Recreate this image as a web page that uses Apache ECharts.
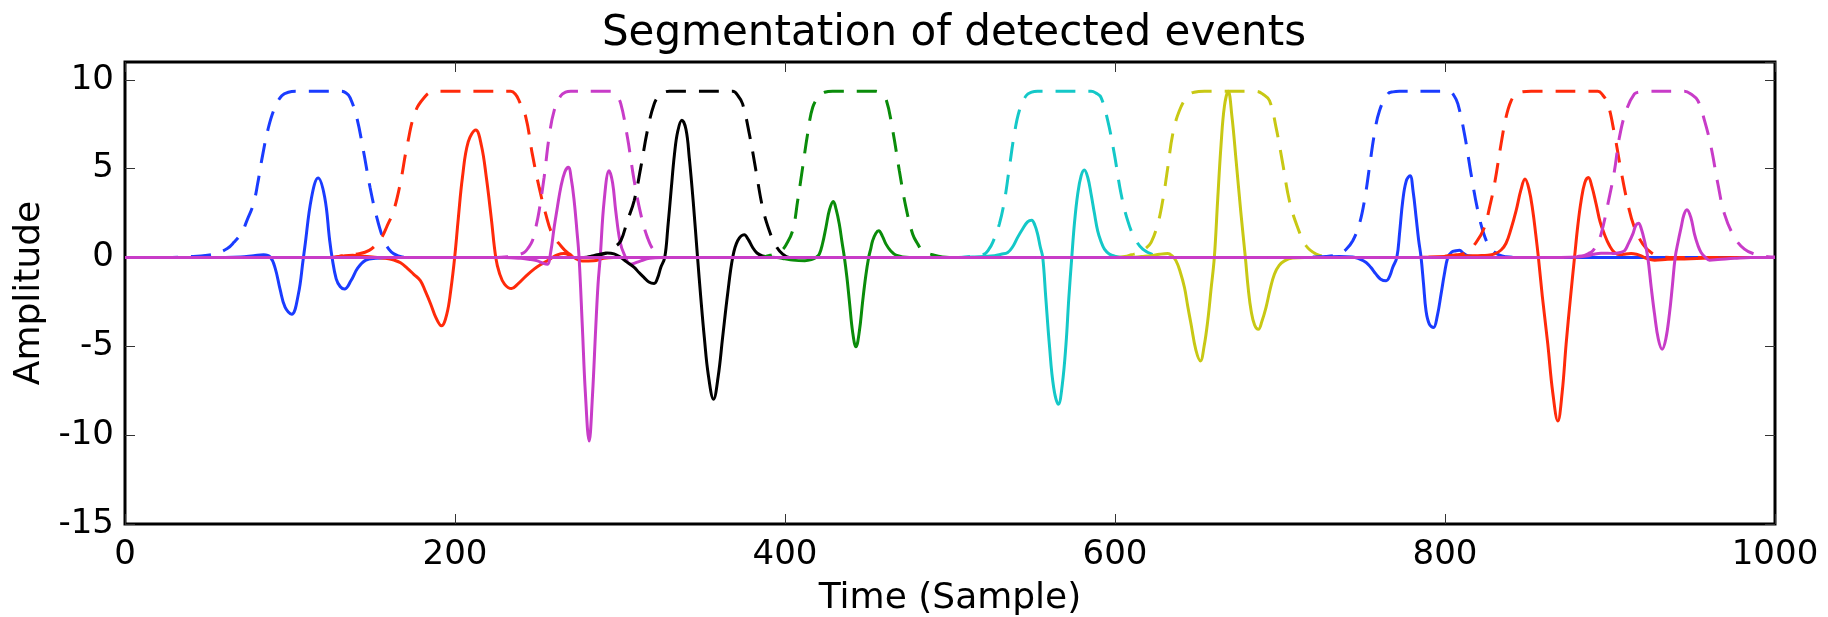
<!DOCTYPE html>
<html>
<head>
<meta charset="utf-8">
<script src="https://cdn.jsdelivr.net/npm/echarts@6/dist/echarts.min.js"></script>
<style>
html,body{margin:0;padding:0;background:#fff;}
#chart{width:1828px;height:617px;}
</style>
</head>
<body>
<div id="chart"></div>
<script>
// ---- data ----
const xTicks = [0, 200, 400, 600, 800, 1000];
const yTicks = [-15, -10, -5, 0, 5, 10];
const eventColors = ['#1a3cff', '#ff2a0a', '#c83cc8', '#000000', '#0a8c0a', '#14c8c8', '#c8c814', '#1a3cff', '#ff2a0a', '#c83cc8'];

const ev1Solid = [[0,0],[50,0],[70,0.03],[78,0.1],[84,0.15],[88,0.02],[91,-0.6],[94,-1.8],[97,-2.8],[101,-3.2],[105,-2.1],[108,-0.1],[109,0.6],[113,3.35],[117,4.47],[121,3.4],[124,1.0],[125.5,0],[128,-1.2],[130.5,-1.65],[133,-1.78],[137,-1.3],[141,-0.6],[146,-0.15],[152,-0.05],[165,0],[1000,0]];
const ev1Window = [[0,0],[25,0],[40,0.05],[50,0.12],[55,0.22],[62,0.5],[66,0.85],[70.7,1.4],[74,2.1],[77.8,3.0],[80.5,4.2],[82.8,5.45],[86.9,7.3],[90.9,8.45],[95,9.1],[99,9.3],[104,9.35],[131,9.35],[134,9.25],[136.4,9.0],[140.4,7.9],[144.5,6.0],[148.5,3.95],[152.6,2.25],[156.6,1.03],[160,0.45],[163,0.2],[168,0.03],[175,0],[1000,0]];

const ev2Solid = [[0,0],[125,0],[132,0.08],[138,0.12],[143,0.08],[150,0.02],[158,-0.05],[163,-0.15],[167,-0.3],[171,-0.6],[175,-0.95],[179,-1.3],[182,-1.9],[185.3,-2.63],[188.5,-3.4],[191.8,-3.85],[195,-3.2],[197.5,-1.8],[199.8,0],[202,2.2],[204.5,4.5],[208,6.5],[212.6,7.17],[216,6.3],[219,4.5],[222,2.2],[224.7,0],[227,-0.9],[230,-1.5],[234.2,-1.75],[238,-1.5],[243,-1.05],[247.9,-0.66],[252,-0.4],[256,-0.19],[259,0.0],[262,0.15],[266,0.22],[270,0.1],[273,-0.05],[277,-0.2],[284,-0.19],[290,-0.05],[296,0],[1000,0]];
const ev2Window = [[0,0],[125,0],[132.4,0.1],[142.5,0.22],[148,0.4],[152,0.7],[155.6,1.13],[159,1.8],[162.7,2.6],[166.7,4.1],[171,6.3],[176.2,8.26],[182.3,9.1],[185.5,9.3],[189.3,9.35],[233.8,9.35],[236.5,9.2],[238.8,8.83],[242.9,7.9],[246.9,5.8],[251,3.94],[255,2.44],[259,1.3],[264.1,0.66],[268.1,0.28],[274.2,0],[1000,0]];

const ev3Solid = [[0,0],[230,0],[240,-0.05],[246,-0.12],[250,-0.19],[254,-0.35],[256,-0.38],[258,0.3],[260.1,1.7],[262,2.8],[264.1,3.94],[266.5,4.8],[268.7,5.07],[270.5,4.4],[272.2,3.2],[273.8,1.6],[275.2,0],[277.2,-3.94],[279,-7.6],[281.3,-10.33],[283.3,-7.8],[285.3,-3.94],[286.7,-1.5],[288,0],[290.4,3.2],[293.4,4.88],[295.5,4.2],[297.4,2.63],[300,0.9],[302.5,0.19],[306.5,-0.38],[312.6,-0.19],[318,-0.05],[325,0],[1000,0]];
const ev3Window = [[0,0],[225,0],[232,0.05],[238,0.15],[241.9,0.28],[244.5,0.55],[246.9,0.94],[249,1.7],[251,2.63],[254,4.5],[257,6.76],[260.1,8.26],[264.1,9.1],[267,9.3],[270.2,9.35],[294.4,9.35],[297.5,9.15],[300.5,8.64],[304.5,6.76],[308.6,4.32],[312.6,2.44],[316.6,1.13],[320.7,0.38],[326.7,0],[1000,0]];

const ev4Solid = [[0,0],[278,0],[284,0.1],[288.4,0.2],[292,0.25],[296.4,0.2],[300.5,0],[304,-0.25],[308.6,-0.56],[311.5,-0.85],[314.6,-1.13],[317.5,-1.38],[320.7,-1.46],[322.8,-1.15],[324.7,-0.56],[327.1,0],[329,1.7],[331,3.8],[333,5.8],[335,7.1],[337.5,7.72],[340,7.2],[342,5.6],[344.5,3.0],[347,0],[349,-2.3],[351.1,-4.5],[353.5,-6.6],[356.7,-7.98],[359.5,-6.7],[362.2,-4.5],[365.3,-2.0],[368.3,0],[371.3,0.94],[375.3,1.28],[377.8,1.0],[380.4,0.56],[383,0.25],[386.4,0.09],[394.5,0],[1000,0]];
const ev4Window = [[0,0],[280,0],[286,0.1],[292.4,0.28],[297,0.6],[300.5,0.94],[304.5,2.07],[308.6,3.2],[312.6,5.07],[316.6,7.14],[320.7,8.64],[324,9.15],[326.7,9.3],[330,9.35],[368.3,9.35],[371.5,9.1],[374.3,8.64],[378.4,6.95],[382.4,4.88],[386.4,2.82],[390.5,1.5],[394.5,0.66],[398.6,0.19],[402.6,0],[1000,0]];

const ev5Solid = [[0,0],[395,0],[400,-0.08],[404.6,-0.15],[412,-0.18],[416,-0.12],[418.8,0],[420.8,0.19],[422.8,0.8],[424.8,1.69],[427,2.7],[429.3,3.15],[431,2.7],[432.9,1.88],[434.5,0.9],[436,0],[437.5,-1.1],[439,-2.44],[441,-4.2],[443,-5.03],[445,-4.2],[447.1,-2.44],[449,-1.0],[450.7,0],[452,0.5],[453.1,0.94],[455,1.35],[456.8,1.5],[459,1.2],[461.2,0.75],[464,0.38],[467.3,0.13],[475.4,0],[1000,0]];
const ev5Window = [[0,0],[385,0],[390,0.1],[394.5,0.22],[398,0.4],[400.6,0.7],[404.6,1.5],[407.7,3.2],[410.7,5.07],[413.7,6.95],[416.8,8.45],[420.8,9.1],[424,9.3],[428.9,9.35],[455.2,9.35],[458,9.2],[461.2,8.92],[465.3,7.14],[469.3,4.88],[473.3,2.82],[477.4,1.31],[480.5,0.75],[483.4,0.38],[489.5,0.15],[499.6,0],[1000,0]];

const ev6Solid = [[0,0],[505,0],[515,0.03],[526.9,0.1],[531,0.18],[535,0.28],[538,0.6],[541,1.13],[544,1.6],[547,2.0],[549.5,2.1],[551.5,1.8],[553.1,1.31],[554.7,0.6],[556.2,0],[558,-2.2],[560.2,-4.88],[562.8,-7.3],[565.7,-8.26],[568,-7.2],[570.3,-4.88],[572,-2.3],[573.8,0],[575.5,2.0],[577.4,3.57],[579.5,4.6],[581.4,4.92],[583.5,4.5],[585.5,3.57],[587.5,2.5],[589.5,1.5],[591.5,0.9],[593.6,0.47],[596.5,0.2],[599.6,0.08],[605.7,0],[1000,0]];
const ev6Window = [[0,0],[505,0],[512,0.05],[516.8,0.1],[520.8,0.19],[523.5,0.45],[525.9,0.85],[529.9,1.88],[533,3.19],[536,5.07],[539,6.95],[542,8.26],[546.1,9.1],[549.5,9.3],[553.1,9.35],[585.5,9.35],[588.5,9.25],[591.5,9.01],[595.6,7.7],[599.6,5.82],[603.7,3.57],[607.7,2.07],[611.7,1.13],[616.8,0.47],[623.9,0.13],[629.9,0],[1000,0]];

const ev7Solid = [[0,0],[610,0],[616,0.05],[621.9,0.1],[627,0.18],[632,0.22],[634.5,0.1],[637,-0.19],[639.5,-0.8],[642.1,-1.69],[644,-2.7],[646.1,-3.76],[649,-5.2],[651.8,-5.82],[654,-5.0],[656.2,-3.57],[658.2,-1.8],[660.2,0],[662.2,3.2],[664.3,6.38],[666.3,8.5],[668.6,9.35],[670.8,8.0],[673.4,5.45],[676.2,2.6],[679,0],[680.8,-1.8],[682.5,-3.0],[684.6,-3.8],[686.9,-4.04],[689,-3.6],[691.5,-2.82],[694,-1.8],[696.6,-0.94],[699.5,-0.45],[702.7,-0.19],[707.7,-0.03],[715,0],[1000,0]];
const ev7Window = [[0,0],[600,0],[606,0.05],[610,0.15],[614.8,0.28],[618.5,0.5],[621.9,0.85],[625.9,1.88],[628.9,3.19],[632,5.07],[635,6.95],[639,8.26],[644.1,9.1],[648,9.3],[654.2,9.35],[685.5,9.35],[689.5,9.2],[693.6,8.83],[697.6,7.32],[701.7,5.26],[705.7,3.19],[710.7,1.69],[715.8,0.66],[721.9,0.19],[728,0.05],[735,0],[1000,0]];

const ev8Solid = [[0,0],[715,0],[728,0.02],[736,0.05],[744,0.03],[748,-0.08],[752.2,-0.28],[755,-0.55],[758.2,-0.94],[761,-1.22],[764.3,-1.31],[766.5,-1.05],[768.3,-0.56],[770.8,0],[772.5,1.4],[774.4,3.19],[776.5,4.3],[778.8,4.6],[780.7,3.7],[782.5,2.25],[784,1.0],[785.5,0],[787,-1.5],[788.5,-3.0],[790.5,-3.75],[793,-3.94],[795.3,-3.3],[797.6,-2.07],[799.6,-0.95],[801.7,0],[804,0.3],[806.7,0.38],[808.8,0.41],[811,0.25],[813.8,0.1],[820.9,0.02],[830,0],[1000,0]];
const ev8Window = [[0,0],[715,0],[722,0.03],[728,0.05],[736,0.19],[740,0.45],[744.1,0.94],[748.1,1.88],[751.2,3.2],[754.2,5.07],[757.2,6.95],[760.3,8.26],[765.3,9.2],[768.5,9.32],[772.4,9.35],[802.7,9.35],[805.5,9.1],[807.8,8.64],[811.8,6.95],[815.8,4.7],[819.9,2.63],[823.9,1.22],[828,0.47],[833,0.13],[837,0.04],[845,0],[1000,0]];

const ev9Solid = [[0,0],[780,0],[790,0.02],[800,0.05],[812,0.08],[820,0.1],[826,0.12],[830,0.2],[834,0.42],[837,0.8],[840,1.6],[843.1,2.63],[846,3.8],[848.5,4.41],[851,3.8],[853.2,2.63],[855,1.3],[856.6,0],[859,-2.2],[862.3,-4.88],[865.3,-7.6],[868.4,-9.2],[871,-7.6],[873.4,-4.88],[876,-2.3],[878.5,0],[880.5,1.8],[882.5,3.19],[884.7,4.2],[886.9,4.5],[889,4.0],[891.6,3.0],[894,2.0],[896.6,1.31],[899.5,0.7],[902.7,0.28],[906.7,0.15],[909.5,0.2],[912.8,0.22],[916,0.18],[918.9,0.09],[922,-0.05],[927,-0.15],[935,-0.1],[945,-0.08],[960,-0.03],[975,0],[1000,0]];
const ev9Window = [[0,0],[790,0],[800.7,0.08],[807,0.15],[812.8,0.28],[818.9,0.85],[823.9,1.69],[827,2.82],[830,4.13],[834,6.4],[837,7.9],[840,8.8],[843.1,9.2],[847,9.32],[852.2,9.35],[892.6,9.35],[895.5,9.15],[898.7,8.64],[902.7,6.95],[906.7,4.88],[910.8,3.0],[914.8,1.69],[919.9,0.75],[924.9,0.28],[931,0.04],[940,0],[1000,0]];

const ev10Solid = [[0,0],[870,0],[880.5,0.02],[886.5,0.09],[890,0.18],[894.6,0.24],[898.7,0.24],[902.7,0.22],[906,0.28],[908.8,0.38],[911,0.75],[913.8,1.31],[915.6,1.8],[917.3,1.93],[919,1.6],[920.9,0.94],[922.9,0],[925,-1.7],[927,-3.19],[929.3,-4.6],[931.6,-5.16],[933.8,-4.6],[936,-3.19],[937.8,-1.6],[939.5,0],[941.3,0.9],[943.1,1.69],[944.8,2.4],[946.6,2.69],[949,2.25],[951.2,1.31],[953.2,0.7],[955.2,0.28],[957.8,0.0],[960.3,-0.15],[965.4,-0.12],[975.5,-0.05],[985,0],[1000,0]];
const ev10Window = [[0,0],[875,0],[880,0.05],[884.5,0.12],[887,0.22],[889.6,0.38],[892,0.75],[894.6,1.31],[898.7,3.0],[902.7,4.88],[905.7,6.76],[909.8,8.26],[914.8,9.2],[918,9.32],[920.9,9.35],[945.1,9.35],[949,9.2],[953.2,8.83],[957.3,7.7],[961.3,6.2],[965.4,4.13],[969.4,2.44],[975.5,1.13],[981.5,0.47],[987.6,0.19],[995.7,0.04],[1000,0.02]];

const solids = [ev1Solid, ev2Solid, ev3Solid, ev4Solid, ev5Solid, ev6Solid, ev7Solid, ev8Solid, ev9Solid, ev10Solid];
const windows = [ev1Window, ev2Window, ev3Window, ev4Window, ev5Window, ev6Window, ev7Window, ev8Window, ev9Window, ev10Window];

// ---- chart ----
const FONT = 'DejaVu Sans';
const chart = echarts.init(document.getElementById('chart'), null, {renderer: 'canvas'});

const series = [];
for (let i = 0; i < solids.length; i++) {
  series.push({
    type: 'line', data: solids[i], showSymbol: false, symbol: 'none', smooth: 0.4,
    lineStyle: {color: eventColors[i], width: 3}, silent: true, z: 2
  });
  series.push({
    type: 'line', data: windows[i], showSymbol: false, symbol: 'none', smooth: 0.4,
    lineStyle: {color: eventColors[i], width: 3, type: [20, 13]}, silent: true, z: 2
  });
}

const plainNum = v => String(v);
const tickStyle = {inside: true, length: 10, lineStyle: {color: '#333', width: 1}};
const option = {
  animation: false,
  backgroundColor: '#fff',
  graphic: [{
    type: 'text', x: 954, y: 34,
    style: {text: 'Segmentation of detected events', font: '42px "DejaVu Sans"', fill: '#000',
            textAlign: 'center', textVerticalAlign: 'middle'}
  }],
  grid: {left: 125, right: 53, top: 62, bottom: 93, show: true, borderColor: '#000', borderWidth: 3,
         backgroundColor: 'transparent', containLabel: false, outerBoundsMode: 'none'},
  xAxis: [{
    type: 'value', min: xTicks[0], max: xTicks[xTicks.length - 1], interval: xTicks[1] - xTicks[0],
    position: 'bottom', axisLine: {show: false, onZero: false}, axisTick: tickStyle, splitLine: {show: false},
    axisLabel: {fontSize: 34, fontFamily: FONT, color: '#000', margin: 14, formatter: plainNum},
    name: 'Time (Sample)', nameLocation: 'middle', nameGap: 57,
    nameTextStyle: {fontSize: 36, fontFamily: FONT, color: '#000'}
  }, {
    type: 'value', min: xTicks[0], max: xTicks[xTicks.length - 1], interval: xTicks[1] - xTicks[0],
    position: 'top', axisLine: {show: false, onZero: false}, axisTick: tickStyle, splitLine: {show: false},
    axisLabel: {show: false}
  }],
  yAxis: [{
    type: 'value', min: yTicks[0], max: 11, interval: yTicks[1] - yTicks[0],
    position: 'left', axisLine: {show: false, onZero: false}, axisTick: tickStyle, splitLine: {show: false},
    axisLabel: {fontSize: 34, fontFamily: FONT, color: '#000', margin: 11, showMaxLabel: false, formatter: plainNum},
    name: 'Amplitude', nameLocation: 'middle', nameGap: 67, nameRotate: 90,
    nameTextStyle: {fontSize: 36, fontFamily: FONT, color: '#000'}
  }, {
    type: 'value', min: yTicks[0], max: 11, interval: yTicks[1] - yTicks[0],
    position: 'right', axisLine: {show: false, onZero: false}, axisTick: tickStyle, splitLine: {show: false},
    axisLabel: {show: false}
  }],
  series: series
};
chart.setOption(option);
</script>
</body>
</html>
